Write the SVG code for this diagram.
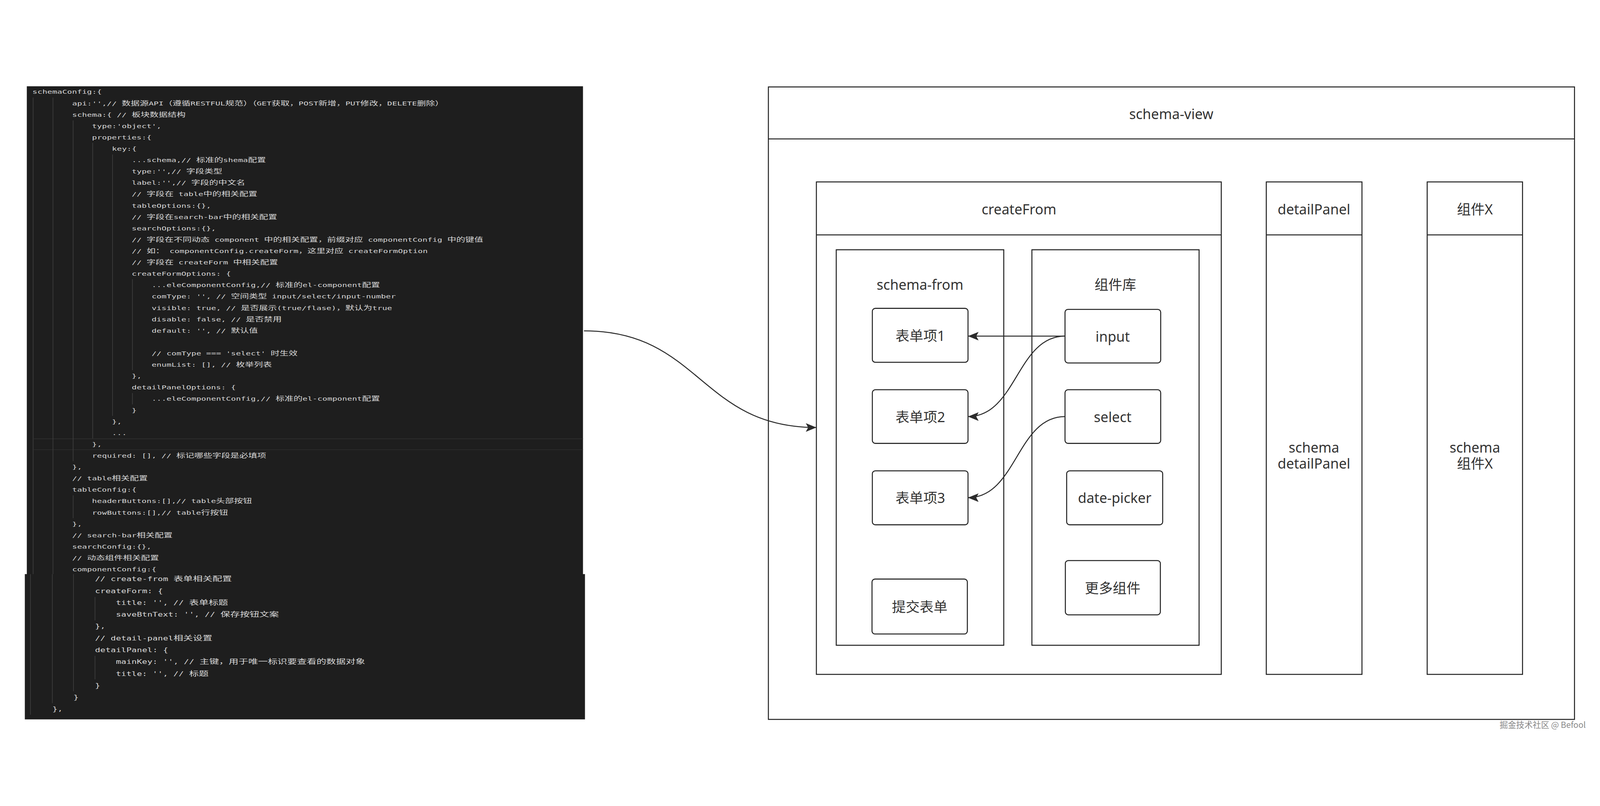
<svg xmlns="http://www.w3.org/2000/svg" width="4833" height="2064" viewBox="0 0 4833 2064">
<defs>
<style>
svg{width:100vw;height:100vh}
.bg{fill:#ffffff}
.panel{fill:#1e1e1e}
.guide{stroke:#3e3e3e;stroke-width:2}
.hl{stroke:#2f2f2f;stroke-width:2}
.code text{font-family:"DejaVu Sans Mono","Liberation Mono",monospace;font-size:17.4px;fill:#d8d8d8}
.code .k{font-family:"Noto Sans CJK SC","Noto Sans CJK JP",sans-serif;font-size:19px}
.code2 text{font-size:18.35px}
.code2 .k{font-size:20.6px}
.box{fill:#ffffff;stroke:#222222;stroke-width:3}
.div{stroke:#222222;stroke-width:3}
.node{fill:#ffffff;stroke:#222222;stroke-width:3}
.lbl{font-family:"Noto Sans","Noto Sans CJK SC",sans-serif;font-size:42px;fill:#333333;text-anchor:middle;dominant-baseline:central}
.edge{fill:none;stroke:#2b2b2b;stroke-width:3;marker-end:url(#arr)}
.wm{font-family:"Noto Sans CJK SC","Noto Sans",sans-serif;font-size:25px;fill:#888888;text-anchor:end;dominant-baseline:central}
</style>
<marker id="arr" markerUnits="userSpaceOnUse" viewBox="0 0 34 28" markerWidth="34" markerHeight="28" refX="32" refY="13" orient="auto">
<path d="M0,0 L32,13 L0,26 L7,13 Z" fill="#2b2b2b"/>
</marker>
</defs>
<rect class="bg" x="0" y="0" width="4833" height="2064"/>

<g id="code-panel">
<rect class="panel" x="81" y="75" width="1680" height="1475"/>
<rect class="panel" x="75" y="1549" width="1692" height="439"/>
<line class="hl" x1="102" y1="1140" x2="1761" y2="1140"/>
<line class="hl" x1="102" y1="1173" x2="1761" y2="1173"/>
<g id="indent-guides">
<line class="guide" x1="100" y1="109" x2="100" y2="1549"/>
<line class="guide" x1="160" y1="109" x2="160" y2="1549"/>
<line class="guide" x1="221" y1="178" x2="221" y2="1208"/>
<line class="guide" x1="221" y1="1311" x2="221" y2="1380"/>
<line class="guide" x1="280" y1="246" x2="280" y2="1139"/>
<line class="guide" x1="340" y1="281" x2="340" y2="1071"/>
<line class="guide" x1="400" y1="658" x2="400" y2="933"/>
<line class="guide" x1="400" y1="1002" x2="400" y2="1036"/>
<line class="guide" x1="92" y1="1549" x2="92" y2="1974"/>
<line class="guide" x1="158" y1="1549" x2="158" y2="1939"/>
<line class="guide" x1="222" y1="1549" x2="222" y2="1903"/>
<line class="guide" x1="287" y1="1618" x2="287" y2="1689"/>
<line class="guide" x1="287" y1="1796" x2="287" y2="1867"/>
</g>
<g class="code" transform="scale(1.43 1)">
<text x="68.5" y="98">schemaConfig:{</text>
<text x="152.4" y="132.35">api:'',// <tspan class="k">数据源</tspan>API<tspan class="k">（遵循</tspan>RESTFUL<tspan class="k">规范）（</tspan>GET<tspan class="k">获取，</tspan>POST<tspan class="k">新增，</tspan>PUT<tspan class="k">修改，</tspan>DELETE<tspan class="k">删除）</tspan></text>
<text x="152.4" y="166.7">schema:{ // <tspan class="k">板块数据结构</tspan></text>
<text x="194.4" y="201.05">type:'object',</text>
<text x="194.4" y="235.4">properties:{</text>
<text x="236.4" y="269.75">key:{</text>
<text x="278.3" y="304.1">...schema,// <tspan class="k">标准的</tspan>shema<tspan class="k">配置</tspan></text>
<text x="278.3" y="338.45">type:'',// <tspan class="k">字段类型</tspan></text>
<text x="278.3" y="372.8">label:'',// <tspan class="k">字段的中文名</tspan></text>
<text x="278.3" y="407.15">// <tspan class="k">字段在</tspan> table<tspan class="k">中的相关配置</tspan></text>
<text x="278.3" y="441.5">tableOptions:{},</text>
<text x="278.3" y="475.85">// <tspan class="k">字段在</tspan>search-bar<tspan class="k">中的相关配置</tspan></text>
<text x="278.3" y="510.2">searchOptions:{},</text>
<text x="278.3" y="544.55">// <tspan class="k">字段在不同动态</tspan> component <tspan class="k">中的相关配置，前缀对应</tspan> componentConfig <tspan class="k">中的键值</tspan></text>
<text x="278.3" y="578.9">// <tspan class="k">如：</tspan> componentConfig.createForm<tspan class="k">，这里对应</tspan> createFormOption</text>
<text x="278.3" y="613.25">// <tspan class="k">字段在</tspan> createForm <tspan class="k">中相关配置</tspan></text>
<text x="278.3" y="647.6">createFormOptions: {</text>
<text x="320.3" y="681.95">...eleComponentConfig,// <tspan class="k">标准的</tspan>el-component<tspan class="k">配置</tspan></text>
<text x="320.3" y="716.3">comType: '', // <tspan class="k">空间类型</tspan> input/select/input-number</text>
<text x="320.3" y="750.65">visible: true, // <tspan class="k">是否展示</tspan>(true/flase)<tspan class="k">，默认为</tspan>true</text>
<text x="320.3" y="785">disable: false, // <tspan class="k">是否禁用</tspan></text>
<text x="320.3" y="819.35">default: '', // <tspan class="k">默认值</tspan></text>
<text x="320.3" y="888.05">// comType === 'select' <tspan class="k">时生效</tspan></text>
<text x="320.3" y="922.4">enumList: [], // <tspan class="k">枚举列表</tspan></text>
<text x="278.3" y="956.75">},</text>
<text x="278.3" y="991.1">detailPanelOptions: {</text>
<text x="320.3" y="1025.45">...eleComponentConfig,// <tspan class="k">标准的</tspan>el-component<tspan class="k">配置</tspan></text>
<text x="278.3" y="1059.8">}</text>
<text x="236.4" y="1094.15">},</text>
<text x="236.4" y="1128.5">...</text>
<text x="194.4" y="1162.85">},</text>
<text x="194.4" y="1197.2">required: [], // <tspan class="k">标记哪些字段是必填项</tspan></text>
<text x="152.4" y="1231.55">},</text>
<text x="152.4" y="1265.9">// table<tspan class="k">相关配置</tspan></text>
<text x="152.4" y="1300.25">tableConfig:{</text>
<text x="194.4" y="1334.6">headerButtons:[],// table<tspan class="k">头部按钮</tspan></text>
<text x="194.4" y="1368.95">rowButtons:[],// table<tspan class="k">行按钮</tspan></text>
<text x="152.4" y="1403.3">},</text>
<text x="152.4" y="1437.65">// search-bar<tspan class="k">相关配置</tspan></text>
<text x="152.4" y="1472">searchConfig:{},</text>
<text x="152.4" y="1506.35">// <tspan class="k">动态组件相关配置</tspan></text>
<text x="152.4" y="1540.7">componentConfig:{</text>
</g>
<g class="code code2" transform="scale(1.43 1)">
<text x="200.7" y="1570.6">// create-from <tspan class="k">表单相关配置</tspan></text>
<text x="200.7" y="1606.3">createForm: {</text>
<text x="244.8" y="1642">title: '', // <tspan class="k">表单标题</tspan></text>
<text x="244.8" y="1677.7">saveBtnText: '', // <tspan class="k">保存按钮文案</tspan></text>
<text x="200.7" y="1713.4">},</text>
<text x="200.7" y="1749.1">// detail-panel<tspan class="k">相关设置</tspan></text>
<text x="200.7" y="1784.8">detailPanel: {</text>
<text x="244.8" y="1820.5">mainKey: '', // <tspan class="k">主键，用于唯一标识要查看的数据对象</tspan></text>
<text x="244.8" y="1856.2">title: '', // <tspan class="k">标题</tspan></text>
<text x="200.7" y="1891.9">}</text>
<text x="155.2" y="1927.6">}</text>
<text x="110.5" y="1963.3">},</text>
</g>
</g>

<g id="schema-view">
<rect class="box" x="2321" y="77" width="2435" height="1911"/>
<line class="div" x1="2321" y1="234" x2="4756" y2="234"/>
<text class="lbl" x="3538" y="158">schema-view</text>
</g>
<g id="createFrom">
<rect class="box" x="2466" y="364" width="1223" height="1488"/>
<line class="div" x1="2466" y1="524" x2="3689" y2="524"/>
<text class="lbl" x="3078" y="446">createFrom</text>
</g>
<g id="detailPanel">
<rect class="box" x="3825" y="364" width="289" height="1488"/>
<line class="div" x1="3825" y1="524" x2="4114" y2="524"/>
<text class="lbl" x="3969" y="446">detailPanel</text>
<text class="lbl" x="3969"><tspan x="3969" y="1165">schema</tspan><tspan x="3969" y="1214">detailPanel</tspan></text>
</g>
<g id="component-x">
<rect class="box" x="4311" y="364" width="288" height="1488"/>
<line class="div" x1="4311" y1="524" x2="4599" y2="524"/>
<text class="lbl" x="4455" y="446">组件X</text>
<text class="lbl" x="4455"><tspan x="4455" y="1165">schema</tspan><tspan x="4455" y="1214">组件X</tspan></text>
</g>
<g id="schema-from">
<rect class="box" x="2526" y="569" width="506" height="1195"/>
<text class="lbl" x="2779" y="673">schema-from</text>
</g>
<g id="component-lib">
<rect class="box" x="3117" y="569" width="505" height="1195"/>
<text class="lbl" x="3369" y="673">组件库</text>
</g>
<g id="form-item-1">
<rect class="node" x="2635" y="746" width="289" height="163" rx="9"/>
<text class="lbl" x="2780" y="828">表单项1</text>
</g>
<g id="form-item-2">
<rect class="node" x="2635" y="992" width="289" height="162" rx="9"/>
<text class="lbl" x="2780" y="1073">表单项2</text>
</g>
<g id="form-item-3">
<rect class="node" x="2635" y="1237" width="289" height="163" rx="9"/>
<text class="lbl" x="2780" y="1318">表单项3</text>
</g>
<g id="submit-form">
<rect class="node" x="2634" y="1564" width="288" height="166" rx="9"/>
<text class="lbl" x="2778" y="1647">提交表单</text>
</g>
<g id="input">
<rect class="node" x="3217" y="749" width="289" height="162" rx="9"/>
<text class="lbl" x="3361" y="830">input</text>
</g>
<g id="select">
<rect class="node" x="3217" y="992" width="289" height="162" rx="9"/>
<text class="lbl" x="3361" y="1073">select</text>
</g>
<g id="date-picker">
<rect class="node" x="3222" y="1237" width="290" height="163" rx="9"/>
<text class="lbl" x="3367" y="1318">date-picker</text>
</g>
<g id="more-components">
<rect class="node" x="3218" y="1508" width="287" height="164" rx="9"/>
<text class="lbl" x="3361" y="1590">更多组件</text>
</g>

<g id="connectors">
<path class="edge" d="M1764,814 C2115,814 2115,1106 2466,1106"/>
<path class="edge" d="M3217,830 L2924,830"/>
<path class="edge" d="M3217,830 C3071,830 3071,1073 2924,1073"/>
<path class="edge" d="M3217,1073 C3071,1073 3071,1318 2924,1318"/>
</g>

<text class="wm" x="4790" y="2003">掘金技术社区 @ Befool</text>
</svg>
